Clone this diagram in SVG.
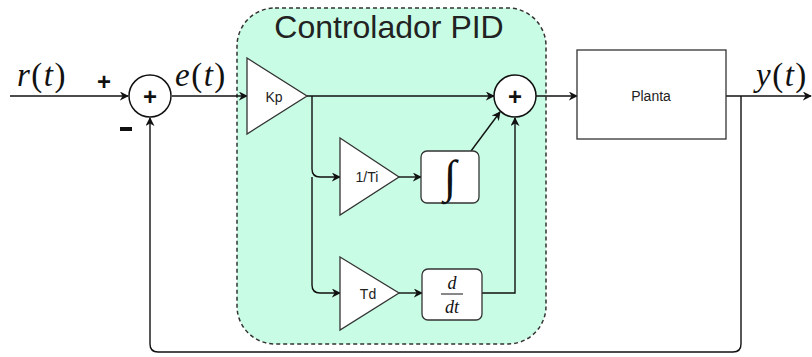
<svg xmlns="http://www.w3.org/2000/svg" width="812" height="357" viewBox="0 0 812 357">
<style>
.ln{fill:none;stroke:#111;stroke-width:1.4}
.blk{fill:#fff;stroke:#333;stroke-width:1.3}
.lbl{font-family:"Liberation Sans",Arial,sans-serif;font-size:14px;fill:#222;text-anchor:middle;dominant-baseline:central}
.math{font-family:"Liberation Serif","Times New Roman",serif;font-size:33px;letter-spacing:1.5px;fill:#111}
.pl{font-family:"Liberation Sans",Arial,sans-serif;font-weight:bold;font-size:24px;fill:#111;text-anchor:middle;dominant-baseline:central}
</style>
<defs>
<marker id="arr" viewBox="0 0 10 10" refX="9" refY="5" markerWidth="9" markerHeight="9" markerUnits="userSpaceOnUse" orient="auto">
<path d="M0,0 L10,5 L0,10 L3,5 z" fill="#111"/>
</marker>
</defs>
<rect width="812" height="357" fill="#fff"/>
<g id="pid">
<rect x="237" y="8" width="309" height="336" rx="38" ry="38" fill="#c8fce4" stroke="#333" stroke-width="1.5" stroke-dasharray="4,3"/>
<text x="389" y="38" font-family="Liberation Sans,Arial,sans-serif" font-size="32" fill="#222" text-anchor="middle">Controlador PID</text>
</g>
<g id="connectors">
<path class="ln" d="M10,96 H128" marker-end="url(#arr)"/>
<path class="ln" d="M172,96 H247" marker-end="url(#arr)"/>
<path class="ln" d="M307,96 H494" marker-end="url(#arr)"/>
<path class="ln" d="M312,96 V169 Q312,177 320,177 H340" marker-end="url(#arr)"/>
<path class="ln" d="M312,177 V285 Q312,293 320,293 H340" marker-end="url(#arr)"/>
<path class="ln" d="M399,177 H421" marker-end="url(#arr)"/>
<path class="ln" d="M399,293 H422" marker-end="url(#arr)"/>
<path class="ln" d="M471,151 L500,112" marker-end="url(#arr)"/>
<path class="ln" d="M482,293 H515 V118" marker-end="url(#arr)"/>
<path class="ln" d="M536,96 H577" marker-end="url(#arr)"/>
<path class="ln" d="M726,96 H811" marker-end="url(#arr)"/>
<path class="ln" d="M741,96 V344 Q741,352 733,352 H158 Q150,352 150,344 V118" marker-end="url(#arr)"/>
</g>
<g id="sum1">
<circle cx="150" cy="96" r="21" fill="#fff" stroke="#111" stroke-width="1.5"/>
<text class="pl" x="150" y="96">+</text>
</g>
<g id="labels">
<text class="math" x="17" y="86"><tspan font-style="italic">r</tspan>(<tspan font-style="italic">t</tspan>)</text>
<text class="math" x="175" y="86"><tspan font-style="italic">e</tspan>(<tspan font-style="italic">t</tspan>)</text>
<text class="math" x="756" y="86"><tspan font-style="italic">y</tspan>(<tspan font-style="italic">t</tspan>)</text>
<text class="pl" x="104" y="81">+</text>
<rect x="120" y="127" width="12" height="4" fill="#111"/>
</g>
<g id="kp">
<polygon class="blk" points="247,58 307,96 247,134"/>
<text class="lbl" x="274" y="97">Kp</text>
</g>
<g id="ti">
<polygon class="blk" points="340,138 399,177 340,215"/>
<text class="lbl" x="367" y="177">1/Ti</text>
</g>
<g id="td">
<polygon class="blk" points="340,257 399,293 340,330"/>
<text class="lbl" x="368" y="294">Td</text>
</g>
<g id="integral">
<rect class="blk" x="421" y="151" width="58" height="52" rx="6" ry="6"/>
<text x="450" y="192" font-family="Liberation Serif,serif" font-size="46" fill="#111" text-anchor="middle">∫</text>
</g>
<g id="deriv">
<rect class="blk" x="422" y="269" width="60" height="51" rx="6" ry="6"/>
<text x="452" y="289" font-family="Liberation Serif,serif" font-style="italic" font-size="18" fill="#111" text-anchor="middle">d</text>
<line x1="441" y1="294" x2="463" y2="294" stroke="#111" stroke-width="1"/>
<text x="452" y="313" font-family="Liberation Serif,serif" font-style="italic" font-size="18" fill="#111" text-anchor="middle">dt</text>
</g>
<g id="sum2">
<circle cx="515" cy="96" r="21" fill="#fff" stroke="#111" stroke-width="1.5"/>
<text class="pl" x="515" y="96">+</text>
</g>
<g id="planta">
<rect class="blk" x="577" y="50" width="149" height="89"/>
<text class="lbl" x="651" y="96">Planta</text>
</g>
</svg>
